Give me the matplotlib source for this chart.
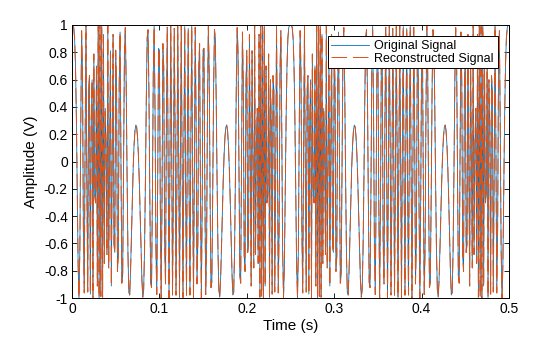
import numpy as np
import matplotlib
matplotlib.use('Agg')
import matplotlib.pyplot as plt

# signal parameters
fs = 1000            # sample rate (Hz)
t_end = 0.5          # duration (s)
mod_freq = 2         # modulation frequency (Hz)
mod_cycles = 100     # peak phase deviation (cycles)

x_ticks = [0, 0.1, 0.2, 0.3, 0.4, 0.5]
x_tick_labels = ['0', '0.1', '0.2', '0.3', '0.4', '0.5']
y_ticks = [-1, -0.8, -0.6, -0.4, -0.2, 0, 0.2, 0.4, 0.6, 0.8, 1]
y_tick_labels = ['-1', '-0.8', '-0.6', '-0.4', '-0.2', '0', '0.2', '0.4', '0.6', '0.8', '1']

t = np.arange(0, t_end + 0.5 / fs, 1 / fs)
x = np.cos(2 * np.pi * mod_cycles * np.cos(2 * np.pi * mod_freq * t))
x_rec = x.copy()

plt.rcParams['font.family'] = ['Liberation Sans', 'DejaVu Sans']
fig = plt.figure(figsize=(5.6, 3.37), dpi=100)
ax = fig.add_axes([72 / 560, 39 / 337, 437 / 560, 273 / 337])

ax.plot(t, x, color='#0072BD', lw=0.6, label='Original Signal')
ax.plot(t, x_rec, color='#D95319', lw=0.7, ls=(0, (16, 6)), label='Reconstructed Signal')

ax.set_xlim(0, 0.5)
ax.set_ylim(-1, 1)
ax.set_xticks(x_ticks)
ax.set_xticklabels(x_tick_labels)
ax.set_yticks(y_ticks)
ax.set_yticklabels(y_tick_labels)
ax.tick_params(direction='in', top=True, right=True, labelsize=10, length=3.5, width=0.6, pad=3)
for s in ax.spines.values():
    s.set_linewidth(0.7)
ax.set_xlabel('Time (s)', fontsize=11, labelpad=2)
ax.set_ylabel('Amplitude (V)', fontsize=11, labelpad=4)

leg = ax.legend(loc='upper right', fontsize=9, fancybox=False, framealpha=1,
                edgecolor='black', borderaxespad=0.9, handlelength=3.0,
                borderpad=0.3, labelspacing=0.05, handletextpad=0.45)
leg.get_frame().set_linewidth(0.7)

fig.savefig('out.png', dpi=100)
